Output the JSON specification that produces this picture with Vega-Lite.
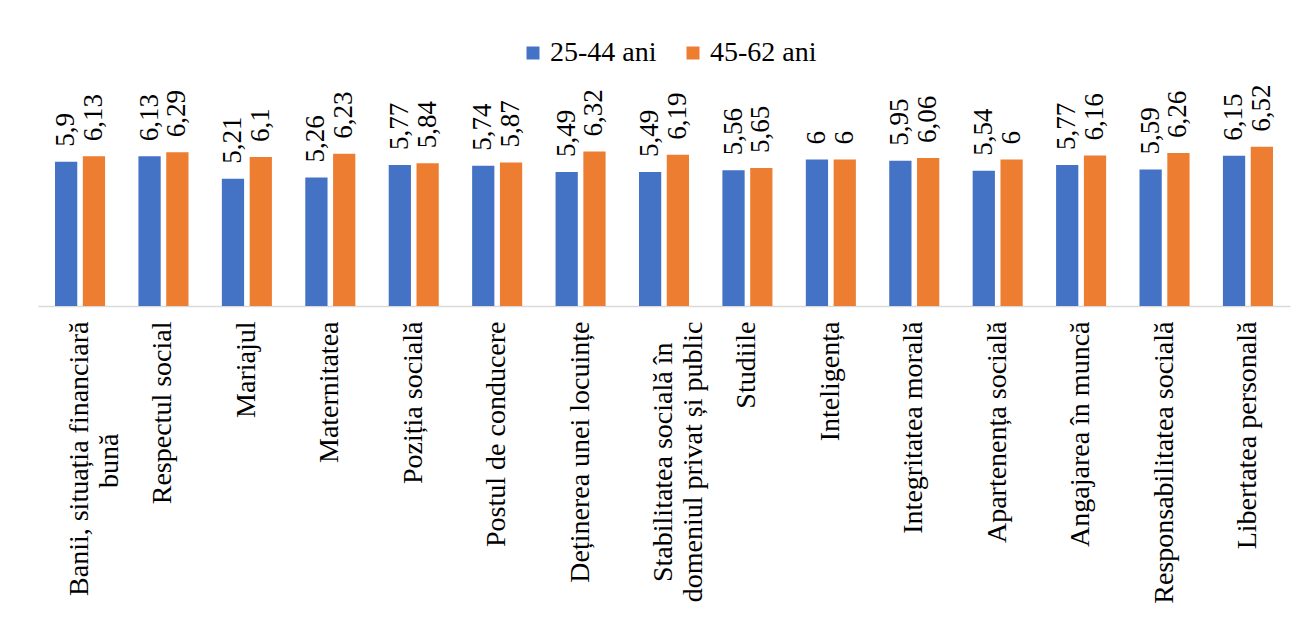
{
  "$schema": "https://vega.github.io/schema/vega-lite/v6.json",
  "width": 1252,
  "height": 171,
  "autosize": {"type": "none"},
  "padding": {"left": 38, "top": 135, "right": 16, "bottom": 313},
  "background": "white",
  "config": {
    "view": {"stroke": null},
    "font": "Liberation Serif, serif",
    "text": {"font": "Liberation Serif, serif"},
    "legend": {"labelFont": "Liberation Serif, serif"},
    "locale": {"number": {"decimal": ",", "thousands": ".", "grouping": [3], "currency": ["", " lei"]}}
  },
  "data": {
    "values": [
      {"categorie": "Banii, situația financiară bună", "grupa": "25-44 ani", "valoare": 5.9},
      {"categorie": "Banii, situația financiară bună", "grupa": "45-62 ani", "valoare": 6.13},
      {"categorie": "Respectul social", "grupa": "25-44 ani", "valoare": 6.13},
      {"categorie": "Respectul social", "grupa": "45-62 ani", "valoare": 6.29},
      {"categorie": "Mariajul", "grupa": "25-44 ani", "valoare": 5.21},
      {"categorie": "Mariajul", "grupa": "45-62 ani", "valoare": 6.1},
      {"categorie": "Maternitatea", "grupa": "25-44 ani", "valoare": 5.26},
      {"categorie": "Maternitatea", "grupa": "45-62 ani", "valoare": 6.23},
      {"categorie": "Poziția socială", "grupa": "25-44 ani", "valoare": 5.77},
      {"categorie": "Poziția socială", "grupa": "45-62 ani", "valoare": 5.84},
      {"categorie": "Postul de conducere", "grupa": "25-44 ani", "valoare": 5.74},
      {"categorie": "Postul de conducere", "grupa": "45-62 ani", "valoare": 5.87},
      {"categorie": "Deținerea unei locuințe", "grupa": "25-44 ani", "valoare": 5.49},
      {"categorie": "Deținerea unei locuințe", "grupa": "45-62 ani", "valoare": 6.32},
      {"categorie": "Stabilitatea socială în domeniul privat și public", "grupa": "25-44 ani", "valoare": 5.49},
      {"categorie": "Stabilitatea socială în domeniul privat și public", "grupa": "45-62 ani", "valoare": 6.19},
      {"categorie": "Studiile", "grupa": "25-44 ani", "valoare": 5.56},
      {"categorie": "Studiile", "grupa": "45-62 ani", "valoare": 5.65},
      {"categorie": "Inteligența", "grupa": "25-44 ani", "valoare": 6},
      {"categorie": "Inteligența", "grupa": "45-62 ani", "valoare": 6},
      {"categorie": "Integritatea morală", "grupa": "25-44 ani", "valoare": 5.95},
      {"categorie": "Integritatea morală", "grupa": "45-62 ani", "valoare": 6.06},
      {"categorie": "Apartenența socială", "grupa": "25-44 ani", "valoare": 5.54},
      {"categorie": "Apartenența socială", "grupa": "45-62 ani", "valoare": 6},
      {"categorie": "Angajarea în muncă", "grupa": "25-44 ani", "valoare": 5.77},
      {"categorie": "Angajarea în muncă", "grupa": "45-62 ani", "valoare": 6.16},
      {"categorie": "Responsabilitatea socială", "grupa": "25-44 ani", "valoare": 5.59},
      {"categorie": "Responsabilitatea socială", "grupa": "45-62 ani", "valoare": 6.26},
      {"categorie": "Libertatea personală", "grupa": "25-44 ani", "valoare": 6.15},
      {"categorie": "Libertatea personală", "grupa": "45-62 ani", "valoare": 6.52}
    ]
  },
  "encoding": {
    "x": {
      "field": "categorie",
      "type": "nominal",
      "sort": null,
      "scale": {"paddingInner": 0.4, "paddingOuter": 0.204},
      "axis": {
        "title": null,
        "labelAngle": -90,
        "labelAlign": "right",
        "labelBaseline": "middle",
        "labelFont": "Liberation Serif, serif",
        "labelFontSize": 28,
        "labelColor": "#000000",
        "labelPadding": 15,
        "labelLimit": 0,
        "labelLineHeight": 30,
        "labelOverlap": false,
        "labelExpr": "datum.value == 'Banii, situația financiară bună' ? ['Banii, situația financiară', 'bună\u00a0\u00a0\u00a0\u00a0\u00a0\u00a0\u00a0\u00a0\u00a0\u00a0\u00a0\u00a0\u00a0\u00a0\u00a0\u00a0\u200b'] : datum.value == 'Stabilitatea socială în domeniul privat și public' ? ['Stabilitatea socială în\u00a0\u00a0\u00a0\u200b', 'domeniul privat și public'] : datum.value",
        "ticks": false,
        "domainColor": "#d9d9d9",
        "domainWidth": 1.5,
        "grid": false
      }
    },
    "xOffset": {"field": "grupa", "type": "nominal", "scale": {"paddingInner": 0.2, "paddingOuter": 0}},
    "y": {
      "field": "valoare",
      "type": "quantitative",
      "scale": {"domain": [0, 7], "nice": false},
      "axis": null
    }
  },
  "layer": [
    {
      "mark": {"type": "bar"},
      "encoding": {
        "color": {
          "field": "grupa",
          "type": "nominal",
          "scale": {"domain": ["25-44 ani", "45-62 ani"], "range": ["#4472C4", "#ED7D31"]},
          "legend": {
            "orient": "none",
            "legendX": 481,
            "legendY": -96,
            "direction": "horizontal",
            "title": null,
            "symbolType": "square",
            "symbolSize": 169,
            "symbolStrokeWidth": 0,
            "labelFont": "Liberation Serif, serif",
            "labelFontSize": 28,
            "labelColor": "#000000",
            "labelOffset": 3,
            "columnPadding": 22,
            "padding": 0
          }
        }
      }
    },
    {
      "mark": {
        "type": "text",
        "angle": 270,
        "align": "left",
        "baseline": "middle",
        "dx": 15,
        "font": "Liberation Serif, serif",
        "fontSize": 27,
        "color": "#000000"
      },
      "encoding": {
        "text": {"field": "valoare", "type": "quantitative", "format": "~g"}
      }
    }
  ]
}
